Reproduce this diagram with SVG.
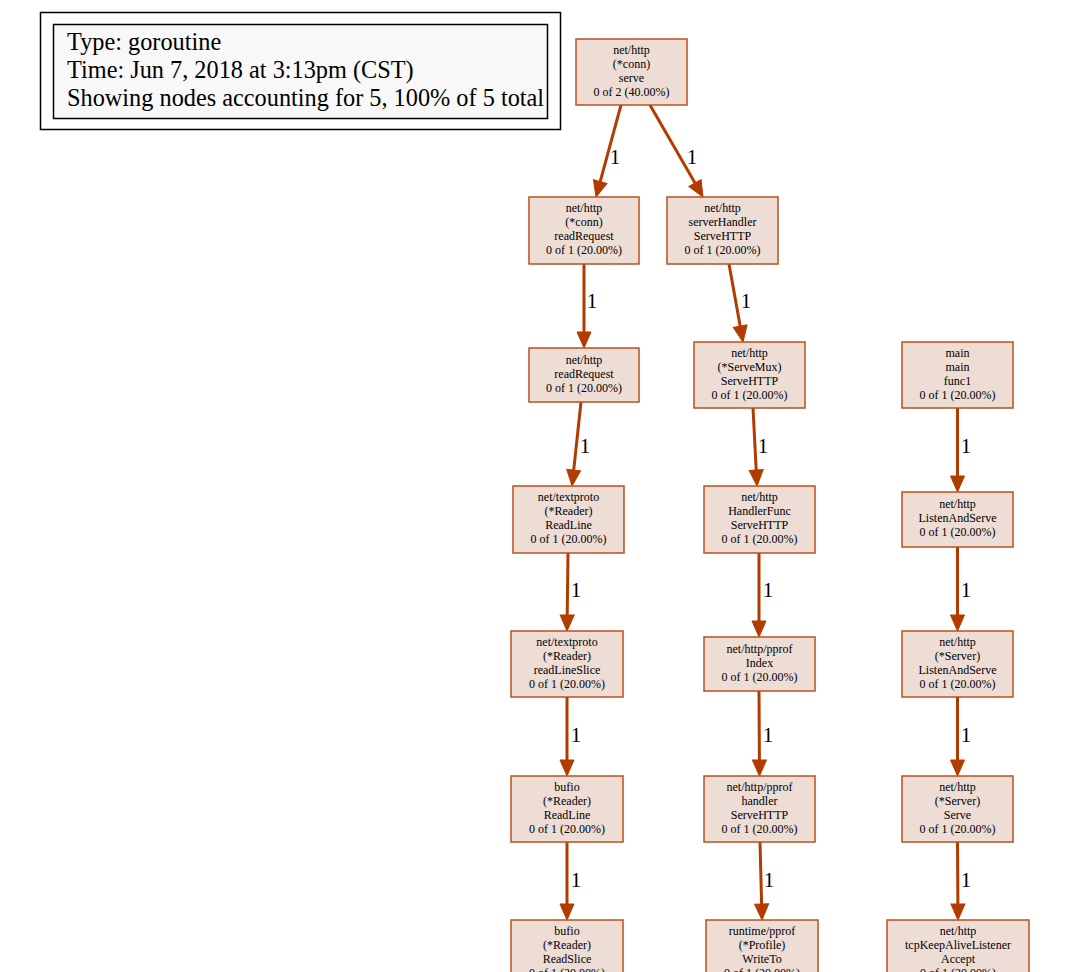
<svg xmlns="http://www.w3.org/2000/svg" width="1088" height="972" viewBox="0 0 1088 972">
<style>
.nd rect{fill:#edddd5;stroke:#b8521c;stroke-width:1.5}
.nd text{font-family:"Liberation Serif","Times New Roman",serif;font-size:12px;text-anchor:middle;fill:#000}
.lg text{font-family:"Liberation Serif","Times New Roman",serif;font-size:24.3px;fill:#000}
.ed path{fill:none;stroke:#b23c00;stroke-width:3;marker-end:url(#ah)}
.ed text{font-family:"Liberation Serif","Times New Roman",serif;font-size:21px;text-anchor:middle;fill:#000}
</style>
<defs>
<marker id="ah" markerUnits="userSpaceOnUse" viewBox="0 -7 16 14" refX="0" refY="0" markerWidth="16" markerHeight="14" orient="auto" overflow="visible">
<path d="M0,-7 L16,0 L0,7 z" fill="#b23c00" stroke="#b23c00" stroke-width="1"/>
</marker>
</defs>
<rect width="1088" height="972" fill="#fff"/>
<g id="legend" class="lg">
<rect x="40.5" y="12.5" width="520" height="117" fill="#fff" stroke="#000" stroke-width="1.5"/>
<rect x="53.5" y="24.5" width="494" height="94" fill="#f8f8f8" stroke="#000" stroke-width="1.5"/>
<text x="67" y="50">Type: goroutine</text>
<text x="67" y="78">Time: Jun 7, 2018 at 3:13pm (CST)</text>
<text x="67" y="106">Showing nodes accounting for 5, 100% of 5 total</text>
</g>
<g id="edges" class="ed">
<path d="M621,105 L600.2,181.6"/><text x="615" y="164">1</text>
<path d="M650,105 L695,183.1"/><text x="692" y="164">1</text>
<path d="M584,264 L584,332"/><text x="592" y="308">1</text>
<path d="M729,264 L740.2,326.2"/><text x="746" y="308">1</text>
<path d="M581,402 L573.7,470.1"/><text x="585" y="453">1</text>
<path d="M753,408 L756.2,470"/><text x="763" y="453">1</text>
<path d="M957.5,408 L957.5,476"/><text x="966" y="453">1</text>
<path d="M568,553 L567.2,615"/><text x="576" y="597">1</text>
<path d="M759,553 L759,621"/><text x="768" y="597">1</text>
<path d="M957.5,547 L957.5,615"/><text x="966" y="597">1</text>
<path d="M567,697 L567,760"/><text x="576" y="742">1</text>
<path d="M759,691 L759.4,760"/><text x="768" y="742">1</text>
<path d="M957.5,697 L957.5,760"/><text x="966" y="742">1</text>
<path d="M567,842 L567,904"/><text x="576" y="887">1</text>
<path d="M760,842 L761.6,904"/><text x="769" y="887">1</text>
<path d="M957.5,842 L957.9,904"/><text x="966" y="887">1</text>
</g>
<g id="n1" class="nd"><rect x="576" y="39" width="111" height="66"/>
<text x="631.5" y="53.5">net/http</text><text x="631.5" y="67.5">(*conn)</text><text x="631.5" y="81.5">serve</text><text x="631.5" y="95.5">0 of 2 (40.00%)</text></g>
<g id="n2" class="nd"><rect x="529" y="197" width="110" height="67"/>
<text x="584" y="211.5">net/http</text><text x="584" y="225.5">(*conn)</text><text x="584" y="239.5">readRequest</text><text x="584" y="253.5">0 of 1 (20.00%)</text></g>
<g id="n3" class="nd"><rect x="667" y="197" width="111" height="67"/>
<text x="722.5" y="211.5">net/http</text><text x="722.5" y="225.5">serverHandler</text><text x="722.5" y="239.5">ServeHTTP</text><text x="722.5" y="253.5">0 of 1 (20.00%)</text></g>
<g id="n4" class="nd"><rect x="529" y="348" width="110" height="54"/>
<text x="584" y="364">net/http</text><text x="584" y="378">readRequest</text><text x="584" y="392">0 of 1 (20.00%)</text></g>
<g id="n5" class="nd"><rect x="694" y="342" width="111" height="66"/>
<text x="749.5" y="356.5">net/http</text><text x="749.5" y="370.5">(*ServeMux)</text><text x="749.5" y="384.5">ServeHTTP</text><text x="749.5" y="398.5">0 of 1 (20.00%)</text></g>
<g id="n6" class="nd"><rect x="902" y="342" width="111" height="66"/>
<text x="957.5" y="356.5">main</text><text x="957.5" y="370.5">main</text><text x="957.5" y="384.5">func1</text><text x="957.5" y="398.5">0 of 1 (20.00%)</text></g>
<g id="n7" class="nd"><rect x="513" y="486" width="111" height="67"/>
<text x="568.5" y="500.5">net/textproto</text><text x="568.5" y="514.5">(*Reader)</text><text x="568.5" y="528.5">ReadLine</text><text x="568.5" y="542.5">0 of 1 (20.00%)</text></g>
<g id="n8" class="nd"><rect x="704" y="486" width="111" height="67"/>
<text x="759.5" y="500.5">net/http</text><text x="759.5" y="514.5">HandlerFunc</text><text x="759.5" y="528.5">ServeHTTP</text><text x="759.5" y="542.5">0 of 1 (20.00%)</text></g>
<g id="n9" class="nd"><rect x="902" y="492" width="111" height="55"/>
<text x="957.5" y="508">net/http</text><text x="957.5" y="522">ListenAndServe</text><text x="957.5" y="536">0 of 1 (20.00%)</text></g>
<g id="n10" class="nd"><rect x="511" y="631" width="112" height="66"/>
<text x="567" y="645.5">net/textproto</text><text x="567" y="659.5">(*Reader)</text><text x="567" y="673.5">readLineSlice</text><text x="567" y="687.5">0 of 1 (20.00%)</text></g>
<g id="n11" class="nd"><rect x="704" y="637" width="111" height="54"/>
<text x="759.5" y="653">net/http/pprof</text><text x="759.5" y="667">Index</text><text x="759.5" y="681">0 of 1 (20.00%)</text></g>
<g id="n12" class="nd"><rect x="902" y="631" width="111" height="66"/>
<text x="957.5" y="645.5">net/http</text><text x="957.5" y="659.5">(*Server)</text><text x="957.5" y="673.5">ListenAndServe</text><text x="957.5" y="687.5">0 of 1 (20.00%)</text></g>
<g id="n13" class="nd"><rect x="511" y="776" width="112" height="66"/>
<text x="567" y="790.5">bufio</text><text x="567" y="804.5">(*Reader)</text><text x="567" y="818.5">ReadLine</text><text x="567" y="832.5">0 of 1 (20.00%)</text></g>
<g id="n14" class="nd"><rect x="704" y="776" width="111" height="66"/>
<text x="759.5" y="790.5">net/http/pprof</text><text x="759.5" y="804.5">handler</text><text x="759.5" y="818.5">ServeHTTP</text><text x="759.5" y="832.5">0 of 1 (20.00%)</text></g>
<g id="n15" class="nd"><rect x="902" y="776" width="111" height="66"/>
<text x="957.5" y="790.5">net/http</text><text x="957.5" y="804.5">(*Server)</text><text x="957.5" y="818.5">Serve</text><text x="957.5" y="832.5">0 of 1 (20.00%)</text></g>
<g id="n16" class="nd"><rect x="511" y="920" width="112" height="66"/>
<text x="567" y="934.5">bufio</text><text x="567" y="948.5">(*Reader)</text><text x="567" y="962.5">ReadSlice</text><text x="567" y="976.5">0 of 1 (20.00%)</text></g>
<g id="n17" class="nd"><rect x="706" y="920" width="112" height="66"/>
<text x="762" y="934.5">runtime/pprof</text><text x="762" y="948.5">(*Profile)</text><text x="762" y="962.5">WriteTo</text><text x="762" y="976.5">0 of 1 (20.00%)</text></g>
<g id="n18" class="nd"><rect x="887" y="920" width="142" height="66"/>
<text x="958" y="934.5">net/http</text><text x="958" y="948.5">tcpKeepAliveListener</text><text x="958" y="962.5">Accept</text><text x="958" y="976.5">0 of 1 (20.00%)</text></g>
</svg>
